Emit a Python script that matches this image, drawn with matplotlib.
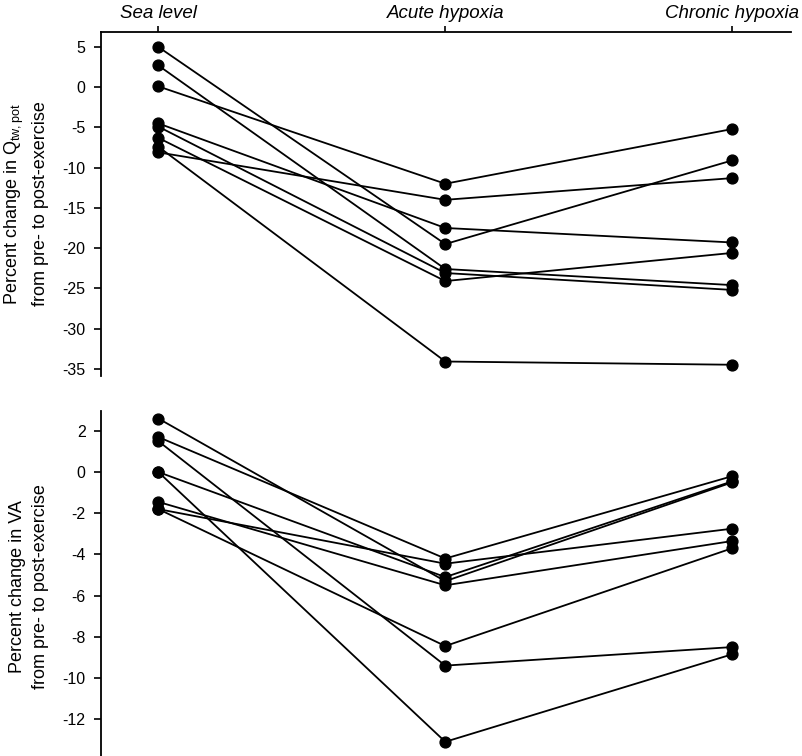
import matplotlib
matplotlib.use("Agg")
import matplotlib.pyplot as plt

plt.rcParams['font.family'] = ['Liberation Sans', 'DejaVu Sans']
plt.rcParams['mathtext.fontset'] = 'custom'
plt.rcParams['mathtext.rm'] = 'Liberation Sans'
plt.rcParams['mathtext.it'] = 'Liberation Sans:italic'

conditions = ["Sea level", "Acute hypoxia", "Chronic hypoxia"]

# Top panel: percent change in Qtw,pot (one list per subject: sea, acute, chronic)
qtw_s1 = [5.0, -19.5, -9.1]
qtw_s2 = [2.7, -22.6, -24.6]
qtw_s3 = [0.1, -12.0, -5.2]
qtw_s4 = [-4.5, -17.5, -19.3]
qtw_s5 = [-4.9, -23.1, -25.2]
qtw_s6 = [-6.3, -24.1, -20.6]
qtw_s7 = [-7.4, -34.1, -34.5]
qtw_s8 = [-8.1, -14.0, -11.3]
qtw_subjects = [qtw_s1, qtw_s2, qtw_s3, qtw_s4, qtw_s5, qtw_s6, qtw_s7, qtw_s8]
qtw_ticks = [5, 0, -5, -10, -15, -20, -25, -30, -35]

# Bottom panel: percent change in VA
va_s1 = [2.6, -5.3, -0.5]
va_s2 = [1.7, -4.2, -0.2]
va_s3 = [1.5, -9.4, -8.5]
va_s4 = [0.0, -13.1, -8.85]
va_s5 = [0.0, -5.1, -0.45]
va_s6 = [-1.45, -5.5, -3.35]
va_s7 = [-1.8, -4.45, -2.75]
va_s8 = [-1.8, -8.45, -3.7]
va_subjects = [va_s1, va_s2, va_s3, va_s4, va_s5, va_s6, va_s7, va_s8]
va_ticks = [2, 0, -2, -4, -6, -8, -10, -12]

W, H = 803, 756
fig = plt.figure(figsize=(W / 100, H / 100), dpi=100)
left = 101 / W
width = (791 - 101) / W
ax1 = fig.add_axes([left, (H - 376) / H, width, (376 - 31.7) / H])
ax2 = fig.add_axes([left, 0.0, width, (H - 410.7) / H])

xs = list(range(len(conditions)))
for ax, subjects in ((ax1, qtw_subjects), (ax2, va_subjects)):
    for s in subjects:
        ax.plot(xs, s, color='black', lw=1.3, marker='o', ms=7.8,
                markerfacecolor='black', markeredgecolor='black', clip_on=False)
    ax.set_xlim(-0.2, 2.205)
    ax.spines['right'].set_visible(False)
    ax.spines['bottom'].set_visible(False)
    ax.spines['left'].set_linewidth(1.3)
    ax.tick_params(axis='y', direction='out', length=5, width=1.2, labelsize=11.5, pad=6)

ax1.set_ylim(-35.9, 6.9)
ax1.set_yticks(qtw_ticks)
ax1.set_yticklabels([str(t) for t in qtw_ticks])
ax1.spines['top'].set_linewidth(1.3)
ax1.xaxis.tick_top()
ax1.set_xticks(xs)
ax1.set_xticklabels(conditions, fontstyle='italic', fontsize=13.5)
ax1.tick_params(axis='x', direction='out', length=4, width=1.2, pad=3)

ax2.set_ylim(-13.79, 2.98)
ax2.set_yticks(va_ticks)
ax2.set_yticklabels([str(t) for t in va_ticks])
ax2.spines['top'].set_visible(False)
ax2.set_xticks([])

ax1.set_ylabel('Percent change in Q$_{\\mathregular{tw,pot}}$\nfrom pre- to post-exercise',
               fontsize=13, linespacing=1.45)
ax2.set_ylabel('Percent change in VA\nfrom pre- to post-exercise',
               fontsize=13, linespacing=1.45)
ax1.yaxis.set_label_coords(-0.076, 0.5)
ax2.yaxis.set_label_coords(-0.076, 0.49)

fig.savefig('out.png', dpi=100)
